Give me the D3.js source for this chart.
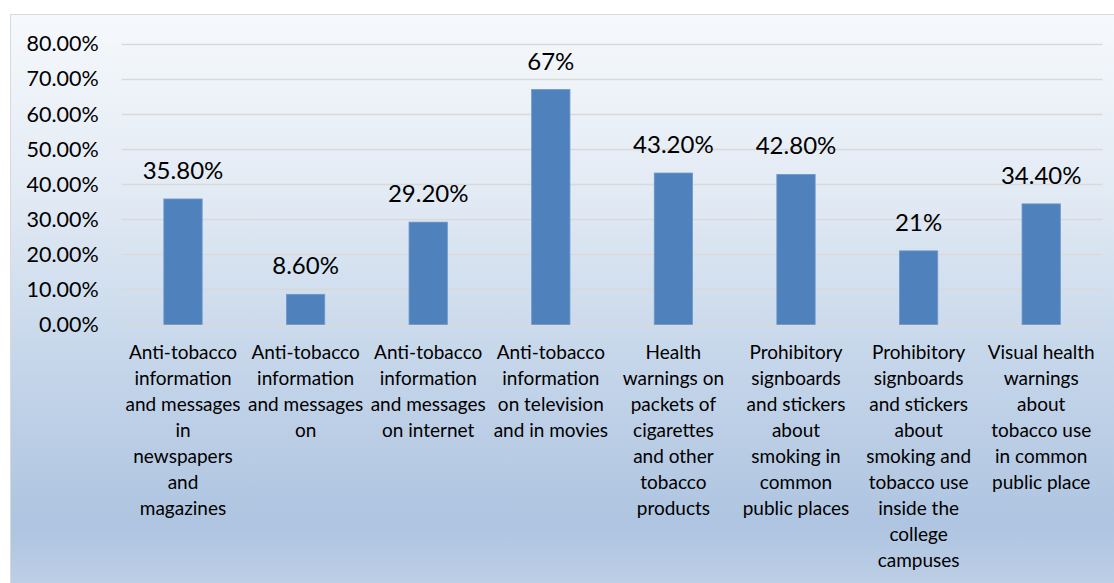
<!DOCTYPE html>
<html>
<head>
<meta charset="utf-8">
<script src="https://cdn.jsdelivr.net/npm/d3@7"></script>
<style>
  html, body { margin: 0; padding: 0; background: #ffffff; }
  svg { display: block; }
  text { font-family: Lato, "Open Sans", sans-serif; fill: #000; }
</style>
</head>
<body>
<svg id="chart" width="1114" height="583"></svg>
<script>
// Awareness sources (share of respondents)
const categories = [
  "Anti-tobacco\ninformation\nand messages\nin\nnewspapers\nand\nmagazines",
  "Anti-tobacco\ninformation\nand messages\non",
  "Anti-tobacco\ninformation\nand messages\non internet",
  "Anti-tobacco\ninformation\non television\nand in movies",
  "Health\nwarnings on\npackets of\ncigarettes\nand other\ntobacco\nproducts",
  "Prohibitory\nsignboards\nand stickers\nabout\nsmoking in\ncommon\npublic places",
  "Prohibitory\nsignboards\nand stickers\nabout\nsmoking and\ntobacco use\ninside the\ncollege\ncampuses",
  "Visual health\nwarnings\nabout\ntobacco use\nin common\npublic place"
];
const values = [35.8, 8.6, 29.2, 67, 43.2, 42.8, 21, 34.4];
const valueLabels = ["35.80%", "8.60%", "29.20%", "67%", "43.20%", "42.80%", "21%", "34.40%"];
const yTicks = [0, 10, 20, 30, 40, 50, 60, 70, 80];

const svg = d3.select("#chart");

// Chart area background with soft blue vertical gradient
const defs = svg.append("defs");
const grad = defs.append("linearGradient")
  .attr("id", "bg").attr("x1", 0).attr("y1", 0).attr("x2", 0).attr("y2", 1);
[["0%", "#f6f9fc"], ["30%", "#e2eaf4"], ["55%", "#c8d8eb"], ["85%", "#aec4e0"], ["100%", "#c4d4e9"]]
  .forEach(([o, c]) => grad.append("stop").attr("offset", o).attr("stop-color", c));

svg.append("rect")
  .attr("x", 10.5).attr("y", 14.5)
  .attr("width", 1120).attr("height", 600)
  .attr("fill", "url(#bg)")
  .attr("stroke", "#d9d9d9").attr("stroke-width", 1);

const plot = { left: 121.7, right: 1102.5, top: 44, bottom: 324.5 };

const x = d3.scaleBand()
  .domain(d3.range(categories.length))
  .range([plot.left, plot.right])
  .paddingInner(0.6875)
  .paddingOuter(0.34375);

const y = d3.scaleLinear().domain([0, 80]).range([plot.bottom, plot.top]);

// Horizontal gridlines
svg.append("g")
  .selectAll("line")
  .data(yTicks)
  .join("line")
  .attr("x1", plot.left).attr("x2", plot.right)
  .attr("y1", d => Math.round(y(d)) + 0.5).attr("y2", d => Math.round(y(d)) + 0.5)
  .attr("stroke", "#d9d9d9").attr("stroke-width", 1.3);

// Y axis labels
const yAxis = d3.axisLeft(y)
  .tickValues(yTicks)
  .tickFormat(d => d.toFixed(2) + "%")
  .tickSize(0)
  .tickPadding(23);
const gy = svg.append("g").attr("transform", `translate(${plot.left},0)`).call(yAxis);
gy.select(".domain").remove();
gy.selectAll("text")
  .style("font-family", "Lato, 'Open Sans', sans-serif")
  .style("font-size", "21.5px")
  .attr("fill", "#000");

// Bars
svg.append("g")
  .selectAll("rect")
  .data(values)
  .join("rect")
  .attr("x", (d, i) => x(i))
  .attr("y", d => y(d))
  .attr("width", x.bandwidth())
  .attr("height", d => y(0) - y(d))
  .attr("fill", "#4f81bd")
  .attr("stroke", "#6f97c9")
  .attr("stroke-width", 0.8);

// Value labels
svg.append("g")
  .selectAll("text")
  .data(values)
  .join("text")
  .attr("x", (d, i) => x(i) + x.bandwidth() / 2)
  .attr("y", d => y(d) - 20)
  .attr("text-anchor", "middle")
  .style("font-size", "24px")
  .text((d, i) => valueLabels[i]);

// Category labels, wrapped as multi-line text
const cat = svg.append("g")
  .selectAll("text")
  .data(categories)
  .join("text")
  .attr("text-anchor", "middle")
  .style("font-size", "19px")
  .attr("transform", (d, i) => `translate(${x(i) + x.bandwidth() / 2},359)`);
cat.each(function(d) {
  const t = d3.select(this);
  d.split("\n").forEach((line, k) => {
    t.append("tspan").attr("x", 0).attr("y", k * 26).text(line);
  });
});
</script>
</body>
</html>
